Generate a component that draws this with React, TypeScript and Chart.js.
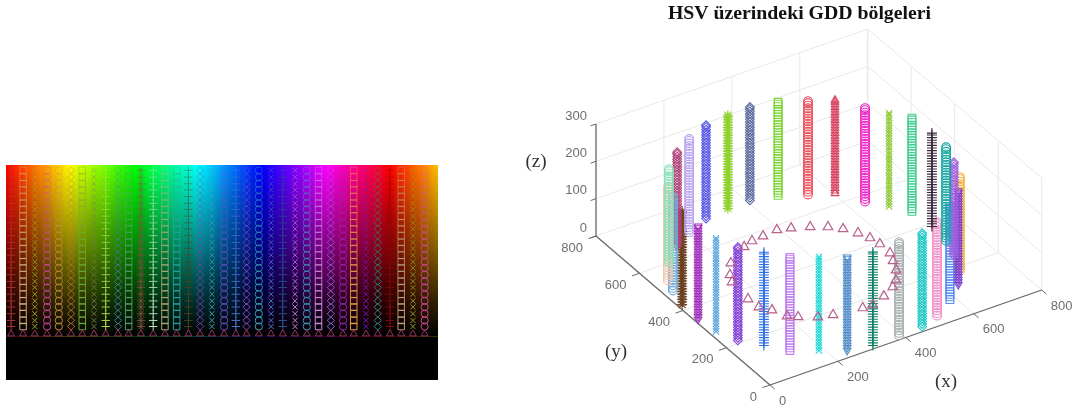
import React, { useEffect, useRef } from "react";
import { Chart, registerables } from "chart.js";

Chart.register(...registerables);

// ---- value levels of the markers in each column ----
const leftLevels = [15, 24, 34, 44, 53, 63, 73, 82, 92, 102, 111, 121, 131, 140, 150, 160, 169, 179, 189, 198, 208, 218, 227, 237, 247];
const ringLevels = [4, 11, 18, 25, 32, 39, 46, 53, 60, 67, 74, 81, 88, 95, 102, 109, 116, 123, 130, 137, 144, 151, 158, 165, 172, 179, 186, 193, 200, 207, 214, 221, 228, 235, 242, 249, 254];

// ---- left panel: HSV strip ----
const hueStops = [0, 30, 60, 90, 120, 150, 180, 210, 240, 270, 300, 330, 360, 390, 405];
const leftHues = [4.8, 16, 27, 38.5, 49.5, 61, 71.5, 82.5, 93.5, 105, 115, 126.5, 138, 149, 160, 171, 182, 193, 204.5, 215.5, 225.5, 237, 248.5, 259.5, 271, 282, 293, 304.5, 316, 326, 337.5, 348.5, 360, 370.5, 381.5, 392.5];
const leftMarkers = ["cross", "rect", "crossRot", "circle", "circle", "rectRot", "rect", "crossRot", "cross", "rectRot", "rect", "star", "cross", "rect", "rect", "cross", "rectRot", "crossRot", "circle", "cross", "rectRot", "circle", "crossRot", "cross", "crossRot", "circle", "rect", "rectRot", "circle", "rect", "crossRot", "rectRot", "cross", "rect", "crossRot", "circle"];
const leftColors = ["#b04040", "#d8c090", "#a0b838", "#d048b0", "#d09040", "#c87030", "#70b040", "#708050", "#c0e860", "#5080c0", "#60a080", "#805040", "#d0f0d0", "#c0b080", "#30a8b0", "#504020", "#8040b0", "#50a8a8", "#7050d0", "#5080d0", "#a050d0", "#40b0c0", "#7080e0", "#306090", "#c0a0e0", "#40a8c8", "#d0a0e0", "#8080e0", "#9030b0", "#f0b040", "#7020c0", "#20a090", "#801010", "#c0b090", "#90b030", "#e050b0"];
const leftTriangleValue = 4;

// ---- right panel: 3D cylinder ----
const ringX = [84, 38, 24, 143, 200, 269, 339, 405, 476, 541, 600, 643, 681, 717, 722, 717, 697, 635, 673, 581, 515, 457, 387, 308, 242, 183, 122, 80, 38, 14, 6, 9];
const ringY = [596, 529, 484, 650, 684, 714, 723, 725, 706, 670, 638, 567, 516, 467, 383, 310, 243, 126, 178, 80, 36, 14, 11, 8, 23, 61, 99, 153, 207, 270, 340, 418];
const ringMarkers = ["circle", "circle", "circle", "rectRot", "circle", "rectRot", "star", "rectRot", "rect", "circle", "triangle", "circle", "crossRot", "rect", "cross", "circle", "rectRot", "downTriangle", "circle", "rect", "circle", "rectRot", "circle", "cross", "downTriangle", "crossRot", "rect", "cross", "rectRot", "crossRot", "downTriangle", "star"];
const ringColors = ["#8fe0b8", "#f0c8b0", "#6fa8d8", "#b0457a", "#b9a4f0", "#5a5ae8", "#8fd22f", "#5e6f9e", "#7fd63c", "#e8505f", "#d8455f", "#f020c8", "#92c83c", "#45d08f", "#3a2a3a", "#15a8a0", "#a060e0", "#7b3fd0", "#f8b040", "#5a8ef0", "#f090c8", "#20c8c8", "#a8aeb0", "#108068", "#5590c8", "#28d8d8", "#c080f0", "#2f6fe8", "#8040d8", "#60a8e0", "#a030b8", "#6a4020"];
const triangleX = [427, 393, 349, 314, 283, 216, 185, 172, 164, 167, 187, 204, 225, 266, 303, 382, 410, 455, 496, 519, 544, 560, 573, 574, 568, 555, 534, 507, 470];
const triangleY = [570, 582, 577, 573, 561, 517, 473, 443, 357, 312, 283, 240, 222, 195, 183, 170, 168, 187, 210, 232, 270, 309, 343, 391, 427, 462, 498, 525, 549];

const xTicks = [0, 200, 400, 600, 800];
const yTicks = [0, 200, 400, 600, 800];
const zTicks = [0, 100, 200, 300];
const titleText = "HSV üzerindeki GDD bölgeleri";

// oblique view of the 3D box, per data unit
const view = { ox: 770, oy: 385, xx: 271.7 / 800, xy: -95 / 800, yx: -174 / 800, yy: -149 / 800, zy: -112 / 300 };
const project = (x: number, y: number, z: number) => ({
  x: view.ox + x * view.xx + y * view.yx,
  y: view.oy + x * view.xy + y * view.yy + z * view.zy,
});

function pointOpts(marker: string, small: boolean) {
  const base = small ? 3.6 : 4.4;
  return {
    pointStyle: marker === "downTriangle" ? "triangle" : marker,
    rotation: marker === "downTriangle" ? 180 : 0,
    radius: marker === "cross" || marker === "star" ? base + 0.6 : marker === "rect" ? base + 1 : base,
  };
}

const hexWithAlpha = (hex: string, alpha: number) => hex + Math.round(alpha * 255).toString(16).padStart(2, "0");

const leftBackground = {
  id: "leftBackground",
  beforeDatasetsDraw(chart: any) {
    const { ctx, chartArea: a, scales } = chart;
    const y0 = scales.y.getPixelForValue(0);
    const yTop = scales.y.getPixelForValue(255);
    const gx = ctx.createLinearGradient(a.left, 0, a.right, 0);
    hueStops.forEach((h) => gx.addColorStop(h / 405, `hsl(${h % 360},100%,50%)`));
    ctx.save();
    ctx.fillStyle = gx;
    ctx.fillRect(a.left, a.top, a.width, a.height);
    const gy = ctx.createLinearGradient(0, yTop, 0, y0);
    gy.addColorStop(0, "rgba(0,0,0,0)");
    gy.addColorStop(0.5, "rgba(0,0,0,0.5)");
    gy.addColorStop(0.8, "rgba(0,0,0,0.82)");
    gy.addColorStop(1, "rgba(0,0,0,1)");
    ctx.fillStyle = gy;
    ctx.fillRect(a.left, yTop, a.width, y0 - yTop);
    ctx.fillStyle = "#000";
    ctx.fillRect(a.left, y0, a.width, a.bottom - y0);
    ctx.restore();
  },
};

const box3d = {
  id: "box3d",
  beforeDatasetsDraw(chart: any) {
    const { ctx, scales } = chart;
    const P = (x: number, y: number, z: number) => {
      const p = project(x, y, z);
      return { x: scales.x.getPixelForValue(p.x), y: scales.y.getPixelForValue(p.y) };
    };
    const seg = (a: number[], b: number[]) => {
      const p = P(a[0], a[1], a[2]);
      const q = P(b[0], b[1], b[2]);
      ctx.beginPath();
      ctx.moveTo(p.x, p.y);
      ctx.lineTo(q.x, q.y);
      ctx.stroke();
    };
    const X = xTicks[xTicks.length - 1];
    const Y = yTicks[yTicks.length - 1];
    const Z = zTicks[zTicks.length - 1];
    ctx.save();
    ctx.strokeStyle = "#e8e8e8";
    ctx.lineWidth = 1;
    xTicks.slice(1).forEach((v) => {
      seg([v, 0, 0], [v, Y, 0]);
      seg([v, Y, 0], [v, Y, Z]);
    });
    yTicks.slice(1).forEach((v) => {
      seg([0, v, 0], [X, v, 0]);
      seg([X, v, 0], [X, v, Z]);
    });
    zTicks.slice(1).forEach((v) => {
      seg([0, Y, v], [X, Y, v]);
      seg([X, Y, v], [X, 0, v]);
    });
    seg([X, 0, 0], [X, 0, Z]);
    ctx.strokeStyle = "#666";
    ctx.lineWidth = 1.3;
    seg([0, Y, 0], [0, 0, 0]);
    seg([0, 0, 0], [X, 0, 0]);
    seg([0, Y, 0], [0, Y, Z]);
    ctx.lineWidth = 1;
    xTicks.forEach((v) => seg([v, 0, 0], [v, -22, 0]));
    yTicks.forEach((v) => seg([0, v, 0], [-22, v, 0]));
    zTicks.forEach((v) => seg([0, Y, v], [-16, Y, v]));

    ctx.fillStyle = "#6e6e6e";
    ctx.font = '13px "Liberation Sans"';
    ctx.textBaseline = "middle";
    ctx.textAlign = "left";
    xTicks.forEach((v) => {
      const p = P(v, 0, 0);
      ctx.fillText(String(v), p.x + 9, p.y + 16);
    });
    ctx.textAlign = "right";
    yTicks.forEach((v) => {
      const p = P(0, v, 0);
      ctx.fillText(String(v), p.x - 13, p.y + 12);
    });
    zTicks.forEach((v) => {
      const p = P(0, Y, v);
      ctx.fillText(String(v), p.x - 9, p.y - 8);
    });

    ctx.textAlign = "center";
    ctx.fillStyle = "#333";
    ctx.font = '19px "Liberation Serif"';
    ctx.fillText("(z)", scales.x.getPixelForValue(536), scales.y.getPixelForValue(162));
    ctx.fillText("(y)", scales.x.getPixelForValue(616), scales.y.getPixelForValue(352));
    ctx.fillText("(x)", scales.x.getPixelForValue(946), scales.y.getPixelForValue(382));
    ctx.fillStyle = "#111";
    ctx.font = 'bold 19.8px "Liberation Serif"';
    ctx.fillText(titleText, scales.x.getPixelForValue(799.5), scales.y.getPixelForValue(14));
    ctx.restore();
  },
};

const hiddenScale = (min: number, max: number) => ({ type: "linear", display: false, min, max });

export default function App() {
  const leftRef = useRef<HTMLCanvasElement>(null);
  const rightRef = useRef<HTMLCanvasElement>(null);

  useEffect(() => {
    const leftDatasets: any[] = [
      {
        data: leftHues.map((h) => ({ x: h, y: leftTriangleValue })),
        borderColor: "rgba(176,64,112,0.8)",
        backgroundColor: "transparent",
        pointStyle: "triangle",
        radius: 4,
        borderWidth: 1,
        clip: false,
      },
      ...leftHues.map((h, i) => ({
        data: leftLevels.map((v) => ({ x: h, y: v })),
        // markers fade out towards the bright top of the strip
        borderColor: (c: any) => hexWithAlpha(leftColors[i], 0.95 - 0.6 * (c.parsed ? c.parsed.y / 255 : 0)),
        backgroundColor: "transparent",
        borderWidth: 1,
        clip: false,
        ...pointOpts(leftMarkers[i], true),
      })),
    ];
    const left = new Chart(leftRef.current!, {
      type: "scatter",
      data: { datasets: leftDatasets },
      plugins: [leftBackground],
      options: {
        animation: false,
        responsive: false,
        layout: { autoPadding: false, padding: { left: 6, right: 7, top: 10, bottom: 10 } },
        plugins: { legend: { display: false }, tooltip: { enabled: false } },
        scales: { x: hiddenScale(0, 405), y: hiddenScale(-64.5, 255) } as any,
      },
    } as any);

    const rightDatasets: any[] = [
      {
        data: triangleX.map((x, i) => project(x, triangleY[i], 0)),
        borderColor: "#b85f8a",
        backgroundColor: "transparent",
        pointStyle: "triangle",
        radius: 5.5,
        borderWidth: 1.2,
      },
      ...ringX.map((x, i) => ({
        data: ringLevels.map((z) => project(x, ringY[i], z)),
        borderColor: ringColors[i],
        backgroundColor: "transparent",
        borderWidth: 1.1,
        ...pointOpts(ringMarkers[i], false),
      })),
    ];
    const right = new Chart(rightRef.current!, {
      type: "scatter",
      data: { datasets: rightDatasets },
      plugins: [box3d],
      options: {
        animation: false,
        responsive: false,
        layout: { autoPadding: false, padding: 0 },
        plugins: { legend: { display: false }, tooltip: { enabled: false } },
        scales: { x: hiddenScale(500, 1080), y: { ...hiddenScale(0, 409), reverse: true } } as any,
      },
    } as any);
    return () => {
      left.destroy();
      right.destroy();
    };
  }, []);

  return (
    <div style={{ position: "absolute", left: 0, top: 0, width: 1080, height: 409, background: "#fff", overflow: "hidden" }}>
      <canvas ref={leftRef} width={445} height={235} style={{ position: "absolute", left: 0, top: 155, width: 445, height: 235, filter: "blur(0.7px)" }} />
      <canvas ref={rightRef} width={580} height={409} style={{ position: "absolute", left: 500, top: 0, width: 580, height: 409, filter: "blur(0.6px)" }} />
    </div>
  );
}
